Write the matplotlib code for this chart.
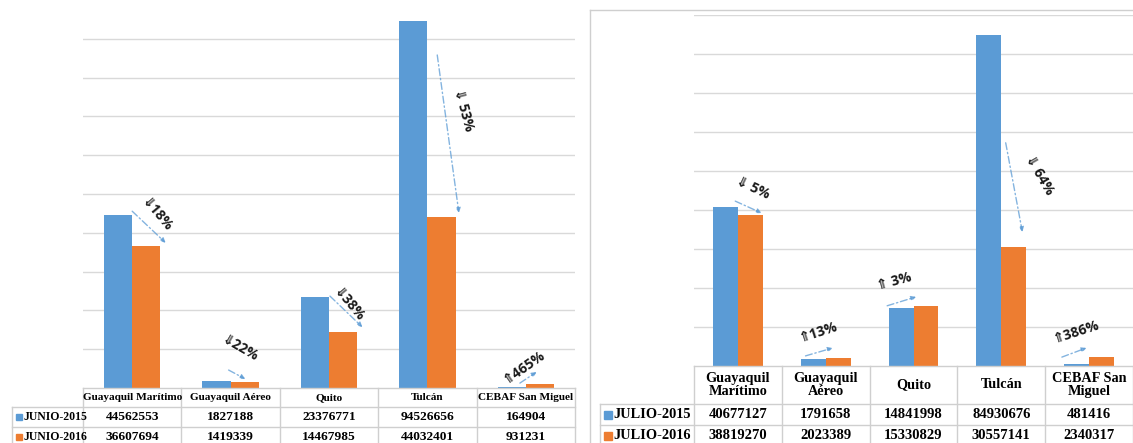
import matplotlib
matplotlib.use('Agg')
import matplotlib.pyplot as plt
from matplotlib.lines import Line2D
from matplotlib.patches import Rectangle

W, H = 1133, 443

# data
cats_junio = ['Guayaquil Marítimo', 'Guayaquil Aéreo', 'Quito', 'Tulcán', 'CEBAF San Miguel']
cats_julio = ['Guayaquil\nMarítimo', 'Guayaquil\nAéreo', 'Quito', 'Tulcán', 'CEBAF San\nMiguel']
junio_2015 = [44562553, 1827188, 23376771, 94526656, 164904]
junio_2016 = [36607694, 1419339, 14467985, 44032401, 931231]
julio_2015 = [40677127, 1791658, 14841998, 84930676, 481416]
julio_2016 = [38819270, 2023389, 15330829, 30557141, 2340317]

BLUE = '#5B9BD5'
ORANGE = '#ED7D31'
GRID = '#d9d9d9'
LINE = '#cfcfcf'
SERIF = 'Liberation Serif'
SANS = ['Open Sans', 'DejaVu Sans']

fig = plt.figure(figsize=(W / 100, H / 100), dpi=100)


def fx(x):
    return x / W


def fy(y):
    return 1 - y / H


def hline(y, xa, xb):
    fig.add_artist(Line2D([fx(xa), fx(xb)], [fy(y), fy(y)], color=LINE, lw=1,
                          transform=fig.transFigure))


def vline(x, ya, yb):
    fig.add_artist(Line2D([fx(x), fx(x)], [fy(ya), fy(yb)], color=LINE, lw=1,
                          transform=fig.transFigure))


def panel(x0, x1, ybase, ytop, vmax, nlines, v15, v16, bw, ann):
    ax = fig.add_axes([fx(x0), fy(ybase), (x1 - x0) / W, (ybase - ytop) / H])
    x = list(range(len(v15)))
    ax.bar([i - bw / 2 for i in x], v15, bw, color=BLUE, zorder=2)
    ax.bar([i + bw / 2 for i in x], v16, bw, color=ORANGE, zorder=2)
    ax.set_xlim(-0.5, len(x) - 0.5)
    ax.set_ylim(0, vmax)
    ax.set_yticks([k * 1e7 for k in range(1, nlines + 1)])
    ax.yaxis.grid(True, color=GRID, lw=1, zorder=0)
    ax.set_xticks([])
    ax.tick_params(left=False, labelleft=False)
    for s in ax.spines.values():
        s.set_visible(False)
    ax.patch.set_alpha(0)
    # percent change arrows and labels
    for i in x:
        sx, sy, ex, ey, lx, ly, ang, sp = ann[i]
        ax.annotate('', xy=(i + ex, v16[i] + ey * 1e6), xytext=(i + sx, v15[i] + sy * 1e6),
                    arrowprops=dict(arrowstyle='-|>', color=BLUE, alpha=0.75, lw=1,
                                    linestyle=(0, (5, 2, 1, 2)), mutation_scale=7,
                                    shrinkA=0, shrinkB=0), zorder=3)
        ch = (v16[i] - v15[i]) / v15[i] * 100
        arrow = '⇑' if ch > 0 else '⇓'
        txt = arrow + sp + '%d%%' % round(abs(ch))
        ax.text(i + lx, max(v15[i], v16[i]) + ly * 1e6, txt, rotation=ang,
                rotation_mode='anchor', ha='center', va='center', fontsize=10,
                fontweight='bold', family=SANS, color='#1a1a1a', zorder=4)
    return ax


def table(x0, x1, ybase, rows, lab0, cats, v15, v16, names, hfs, nfs, lfs, sq):
    cw = (x1 - x0) / 5
    hline(ybase, x0, x1)
    for r in rows:
        hline(r[0], lab0, x1)
    vline(lab0, rows[0][0], H + 2)
    for k in range(6):
        vline(x0 + k * cw, ybase, H + 2)
    for k, c in enumerate(cats):
        fig.text(fx(x0 + (k + 0.5) * cw), fy((ybase + rows[0][0]) / 2), c, ha='center',
                 va='center', fontsize=hfs, fontweight='bold', family=SERIF,
                 linespacing=1.05)
    for r, vals, name, col in zip(rows, (v15, v16), names, (BLUE, ORANGE)):
        yc = (r[0] + r[1]) / 2
        for k, v in enumerate(vals):
            fig.text(fx(x0 + (k + 0.5) * cw), fy(yc), str(v), ha='center', va='center',
                     fontsize=nfs, fontweight='bold', family=SERIF)
        fig.add_artist(Rectangle((fx(lab0 + 4), fy(yc + sq / 2)), sq / W, sq / H,
                                 color=col, transform=fig.transFigure))
        fig.text(fx(lab0 + sq + 5), fy(yc), name, ha='left', va='center',
                 fontsize=lfs, fontweight='bold', family=SERIF)


# arrow start dx, dy(M), end dx, dy(M), label dx, dy(M), angle, spacer
ann_junio = [
    (0.0, 1.0, 0.34, 0.8, 0.24, 0.0, -50, ''),
    (-0.02, 2.8, 0.15, 0.9, 0.09, 8.3, -30, ''),
    (0.01, 0.3, 0.34, 1.2, 0.20, -2.0, -50, ''),
    (0.10, -8.7, 0.32, 1.1, 0.37, -22.9, -75, ' '),
    (-0.06, 1.1, 0.11, 3.2, -0.02, 4.5, 35, ''),
]
ann_julio = [
    (-0.03, 1.6, 0.27, 0.4, 0.17, 4.9, -25, ' '),
    (-0.23, 0.8, 0.08, 2.6, -0.09, 6.7, 18, ''),
    (-0.30, 0.6, 0.03, 2.4, -0.22, 6.2, 15, ' '),
    (0.05, -27.7, 0.24, 3.8, 0.43, -35.9, -60, ' '),
    (-0.31, 1.8, -0.03, 2.3, -0.15, 6.4, 18, ''),
]

panel(83, 575, 388, 0, 1e8, 9, junio_2015, junio_2016, 0.286, ann_junio)
table(83, 575, 388, [(407, 427), (427, 447)], 12, cats_junio, junio_2015, junio_2016,
      ['JUNIO-2015', 'JUNIO-2016'], 8.1, 9.6, 8.5, 6)

# frame of the right chart
hline(10, 590, W + 2)
vline(590, 10, H + 2)

panel(694, 1133, 366, 15, 9e7, 9, julio_2015, julio_2016, 0.284, ann_julio)
table(694, 1133, 366, [(404, 425), (425, 446)], 600, cats_julio, julio_2015, julio_2016,
      ['JULIO-2015', 'JULIO-2016'], 10.3, 10.5, 10.4, 8)

fig.savefig('out.png', dpi=100)
